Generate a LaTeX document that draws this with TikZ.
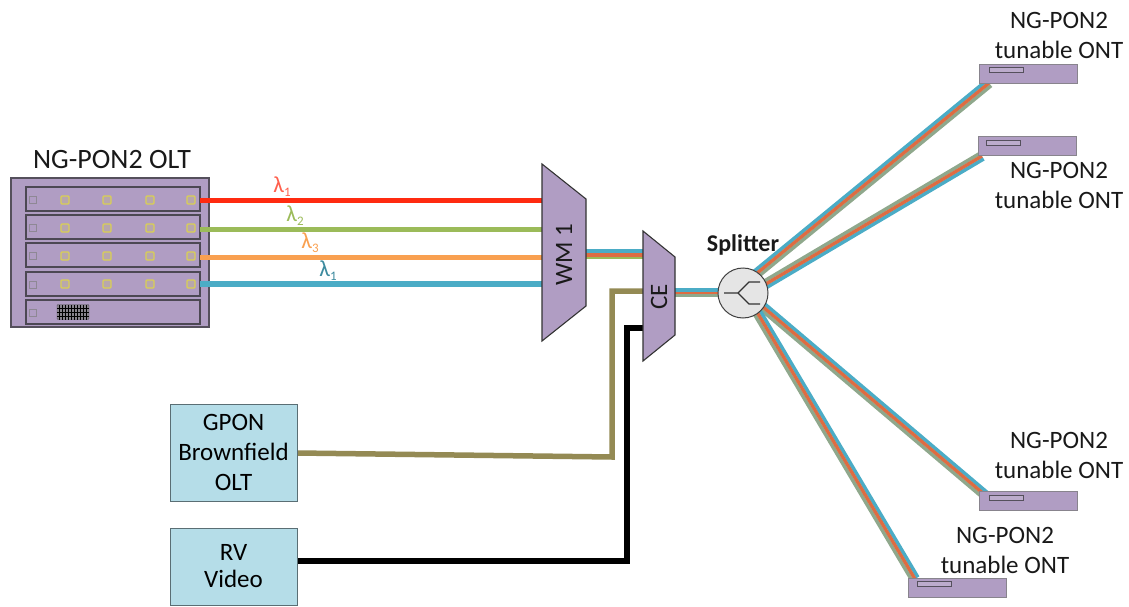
\documentclass[tikz,border=0pt]{standalone}
\usepackage{fontspec}
\setmainfont{Carlito}
\usetikzlibrary{calc,backgrounds}
\definecolor{rackfill}{HTML}{B09DC3}
\definecolor{rackedge}{HTML}{55505C}
\definecolor{ledc}{HTML}{D9CF55}
\definecolor{boxfill}{HTML}{B5DDE8}
\definecolor{boxedge}{HTML}{5A6E74}
\definecolor{lred}{HTML}{FF2A10}
\definecolor{lgreen}{HTML}{9BBB59}
\definecolor{lorange}{HTML}{F9A050}
\definecolor{lblue}{HTML}{4BACC6}
\definecolor{olivec}{HTML}{948A54}
\definecolor{fibred}{HTML}{DE6C42}
\definecolor{fibsage}{HTML}{8FA88C}
\tikzset{
  x=1pt,y=-1pt,
  every node/.style={inner sep=0pt,outer sep=0pt},
  rack/.style={draw=rackedge,line width=1.4pt,fill=rackfill,anchor=north west},
  slotbox/.style={draw=rackedge!90!black,line width=1.6pt,fill=rackfill,anchor=north west,minimum width=174pt,minimum height=24pt},
  led/.style={draw=ledc,line width=1.3pt,fill=rackfill!80!ledc,minimum size=8pt,rounded corners=1pt},
  pin/.style={draw=gray!70!rackfill,line width=.9pt,minimum size=7pt},
  ont/.style={draw=rackedge!70,line width=.8pt,fill=rackfill,anchor=north west,minimum width=98pt,minimum height=19pt},
  slit/.style={draw=rackedge,line width=.8pt,fill=rackfill!85!white,anchor=north west,minimum width=34pt,minimum height=5.5pt},
  srcbox/.style={draw=boxedge,line width=.8pt,fill=boxfill,anchor=north west,minimum width=127pt,align=center,font=\fontsize{25}{30}\selectfont},
  mux/.style={draw=black!80,line width=1.1pt,fill=rackfill,line join=miter},
  lam/.style={line width=5.5pt},
  label/.style={font=\fontsize{25}{30}\selectfont,align=center,text=black!90},
  lamlabel/.style={font=\fontsize{23}{24}\selectfont},
}
\newcommand{\fibrebundle}[2]{%
  \draw[line width=3.7pt,lblue] ($(#1)!3.3pt!90:(#2)$) -- ($(#2)!3.3pt!-90:(#1)$);
  \draw[line width=3.7pt,fibsage] ($(#1)!3.3pt!-90:(#2)$) -- ($(#2)!3.3pt!90:(#1)$);
  \draw[line width=3.3pt,fibred] (#1) -- (#2);
}
\newcommand{\lamtext}[1]{λ\raisebox{-4pt}{\fontsize{13}{14}\selectfont #1}}
\begin{document}
\begin{tikzpicture}
\useasboundingbox (0,0) rectangle (1129,607);
% rack
\node[rack,minimum width=198pt,minimum height=149pt] (olt) at (11,178) {};
\node[label,anchor=center,font=\fontsize{28}{30}\selectfont] (olttitle) at (112,160) {NG-PON2 OLT};
\foreach \n/\y in {1/187,2/215,3/243,4/272,5/300}{
  \node[slotbox] (slot\n) at (26,\y) {};
  \node[pin] (pin\n) at (33,\y+13) {};
}
\foreach \n/\y in {1/200,2/228,3/256,4/284}{
  \foreach \m/\x in {1/65,2/107,3/150,4/191}{
    \node[led] (led\n\m) at (\x,\y) {};
  }
}
\node[draw=rackedge,fill=rackedge!70,rounded corners=1pt,minimum width=32pt,minimum height=15pt,anchor=center] (grid) at (73,312) {};
\foreach \x in {59,62,...,88}{\draw[black,line width=.6pt] (\x,305) -- (\x,320);}
\foreach \y in {308,312,316}{\draw[black,line width=.9pt] (57,\y) -- (89,\y);}
% wavelengths
\coordinate (wma) at (544,200.5);
\draw[lam,lred] (slot1.east |- led14) ++(0,0.5) coordinate (r0) -- (r0 -| wma);
\draw[lam,lgreen] (slot2.east |- led24) ++(0,1.5) coordinate (g0) -- (g0 -| wma);
\draw[lam,lorange] (slot3.east |- led34) ++(0,1.5) coordinate (o0) -- (o0 -| wma);
\draw[lam,lblue] (slot4.east |- led44) coordinate (b0) -- (b0 -| wma);
% mux nodes
\draw[mux] (542,164) -- (586,199) -- (586,306) -- (542,341) -- cycle;
\draw[mux] (643,231) -- (675,257) -- (675,335) -- (643,361) -- cycle;
\node[label,rotate=90] (wm) at (564,255) {WM 1};
\node[label,rotate=90] (ce) at (659,297) {CE};
\begin{scope}[on background layer]
\draw[line width=3.4pt,lblue] (586,251) -- (643,251);
\draw[line width=4pt,fibred] (586,254.7) -- (643,254.7);
\draw[line width=2.8pt,lgreen] (586,258) -- (643,258);
\draw[line width=3.1pt,lblue] (675,290) -- (718,290);
\draw[line width=2.6pt,fibred] (675,293) -- (718,293);
\draw[line width=2.7pt,fibsage] (675,295.5) -- (718,295.5);
\end{scope}
\node[lamlabel,text=lred!75!white] (l1) at (282,187) {\lamtext{1}};
\node[lamlabel,text=lgreen] (l2) at (295,216) {\lamtext{2}};
\node[lamlabel,text=lorange] (l3) at (310,243) {\lamtext{3}};
\node[lamlabel,text=lblue!80!black] (l4) at (328,271) {\lamtext{1}};
% sources
\node[srcbox,minimum height=97pt] (gpon) at (170,404) {GPON\\Brownfield\\OLT};
\node[srcbox,minimum height=77pt,font=\fontsize{25}{27}\selectfont] (rv) at (170,528) {RV\\Video};
\coordinate (cein1) at (643,291);
\coordinate (cein2) at (645,328);
\coordinate (bend1) at (612,457);
\begin{scope}[on background layer]
\draw[lam,olivec,line join=miter] (gpon.east |- 0,453) -- (bend1) -- (bend1 |- cein1) -- (cein1);
\draw[lam,black,line join=miter] (rv.east |- 0,561) -- (627,561) -- (627,328) -- (cein2);
\end{scope}
% splitter
\node[circle,draw=black!75,line width=1pt,fill=black!10,minimum size=50pt] (split) at (743,293) {};
\draw[black!80,line width=1.1pt] (724,293) -- (738,293) -- (749,282) -- (760,282);
\draw[black!80,line width=1.1pt] (738,293) -- (749,304) -- (760,304);
\node[label,font=\fontsize{24}{24}\selectfont\bfseries,anchor=center] (splitlabel) at (743,245) {Splitter};
% ONTs
\node[ont] (ont1) at (979,64) {};
\node[ont] (ont2) at (978,136) {};
\node[ont] (ont3) at (979,491) {};
\node[ont] (ont4) at (908,578) {};
\node[slit] (s1) at (989,67) {};
\node[slit] (s2) at (986,140) {};
\node[slit] (s3) at (989,495) {};
\node[slit] (s4) at (917,581) {};
\node[label] (t1) at (1059,35) {NG-PON2\\tunable ONT};
\node[label] (t2) at (1059,185) {NG-PON2\\tunable ONT};
\node[label] (t3) at (1059,455) {NG-PON2\\tunable ONT};
\node[label] (t4) at (1005,550) {NG-PON2\\tunable ONT};
\coordinate (f1) at (989,83);
\coordinate (f2) at (982,156);
\coordinate (f3) at (985,495);
\coordinate (f4) at (915,579);
\coordinate (sp1) at ($(split.center)!0.85!(split.57)$);
\coordinate (sp2) at ($(split.center)!0.85!(split.20)$);
\coordinate (sp3) at ($(split.center)!0.85!(split.-34)$);
\coordinate (sp4) at ($(split.center)!0.85!(split.-53)$);
\begin{scope}[on background layer]
\fibrebundle{sp1}{f1}
\fibrebundle{f2}{sp2}
\fibrebundle{sp3}{f3}
\fibrebundle{sp4}{f4}
\end{scope}
\end{tikzpicture}
\end{document}
